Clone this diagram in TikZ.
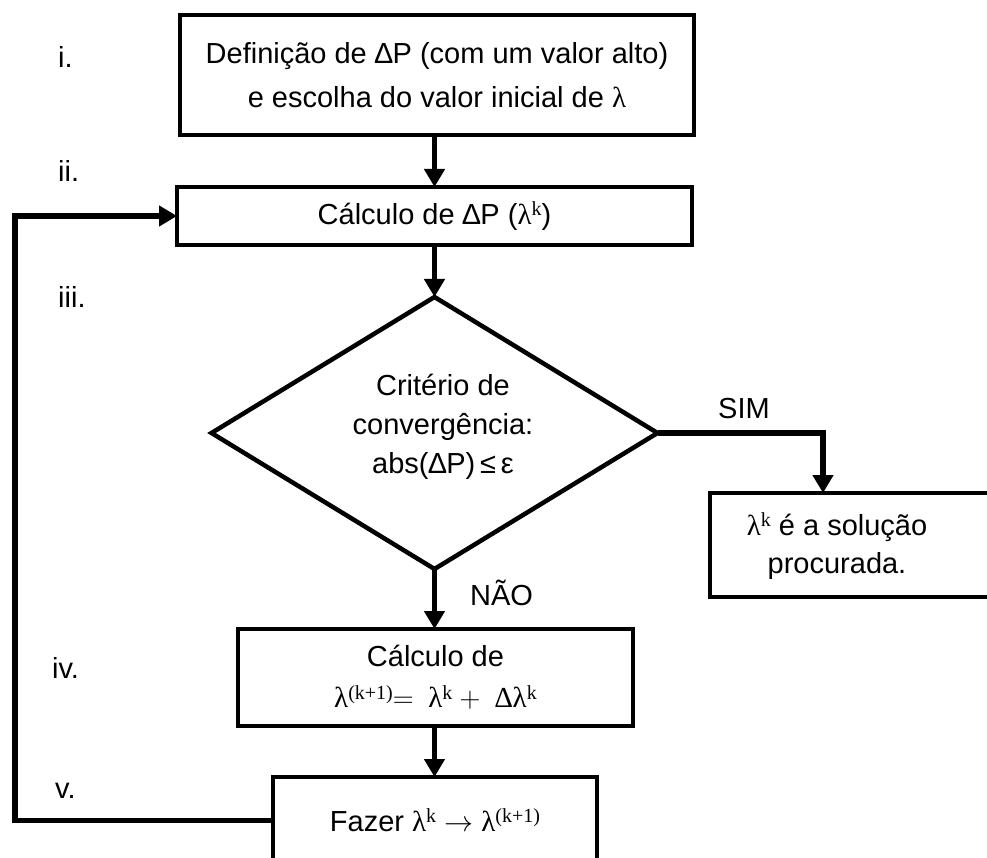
\documentclass[tikz,border=0pt]{standalone}
\usepackage{fix-cm}
\usepackage{fontspec}
\setmainfont{Liberation Sans}
\newfontfamily\serif{Liberation Serif}
\usetikzlibrary{shapes.geometric,arrows.meta}
\newcommand\lam{{\serif λ}}
\newcommand\upx[1]{\raisebox{0.3em}{\serif\fontsize{20}{20}\selectfont #1}}
\begin{document}
\begin{tikzpicture}[x=1pt,y=-1pt,
  every node/.style={font=\fontsize{29}{39}\selectfont},
  box/.style={draw, line width=4.5pt, rectangle, inner sep=0pt, outer sep=0pt, align=center},
  conn/.style={line width=5.5pt, -{Triangle[width=20pt,length=18pt]}},
  lbl/.style={anchor=base west, inner sep=0pt}]
\useasboundingbox (0,0) rectangle (987,858);
\clip (0,0) rectangle (987,858);

\node[box, minimum width=514pt, minimum height=120pt, font=\fontsize{29}{44}\selectfont] (b1) at (437,75)
  {Definição de ∆P (com um valor alto)\\e escolha do valor inicial de \lam};
\node[box, minimum width=515pt, minimum height=58pt] (b2) at (434.5,216)
  {Cálculo de ∆P (\lam\upx{k})};
\node[draw, diamond, line width=4.5pt, inner sep=0pt, outer sep=0pt,
  minimum width=446pt, minimum height=272pt] (d) at (434.5,433) {};
\node[align=center, inner sep=0pt] (dt) at (443,427)
  {Critério de\\convergência:\\abs(∆P)\,≤\,ε};
\node[box, minimum width=290pt, minimum height=104pt] (res) at (855,545) {};
\node[align=center, inner sep=0pt, font=\fontsize{29}{38}\selectfont] (rt) at (837,546)
  {\lam\upx{k} é a solução\\procurada.};
\node[box, minimum width=395pt, minimum height=97pt, font=\fontsize{29}{41}\selectfont] (b4) at (435.5,677.5)
  {Cálculo de\\{\serif λ\upx{(k+1)}$=$\ \ λ\upx{k} $+$\ \ ∆λ\upx{k}}};
\node[box, minimum width=324pt, minimum height=87pt] (b5) at (435,820.5)
  {Fazer \lam\upx{k} $\rightarrow$ \lam\upx{(k+1)}};

\coordinate (lp) at (15,0);
\coordinate (sx) at (823,0);

\draw[conn] (b2.north |- b1.south) -- (b2.north);
\draw[conn] (b2.south) -- (d.north);
\draw[conn] (d.south) -- (d.south |- b4.north);
\draw[conn] (d.south |- b4.south) -- (d.south |- b5.north);
\draw[conn] (d.east) -- (d.east -| sx) -- (res.north -| sx);
\draw[conn] (b5.west) -- (b5.west -| lp) -- (b2.west -| lp) -- (b2.west);

\node[lbl] (l1) at (58,68) {i.};
\node[lbl] (l2) at (58,182) {ii.};
\node[lbl] (l3) at (58,308) {iii.};
\node[lbl] (l4) at (52,678) {iv.};
\node[lbl] (l5) at (55,798) {v.};
\node[lbl] (sim) at (718,418) {SIM};
\node[lbl] (nao) at (470,605) {NÃO};
\end{tikzpicture}
\end{document}
